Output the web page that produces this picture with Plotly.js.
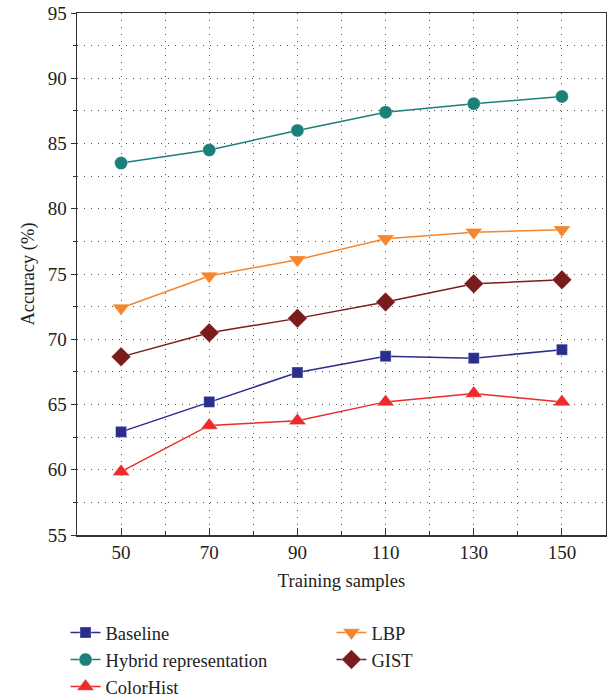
<!DOCTYPE html>
<html>
<head>
<meta charset="utf-8">
<script src="https://cdn.plot.ly/plotly-3.0.1.min.js"></script>
<style>html,body{margin:0;padding:0;background:#fff;}#chart{width:607px;height:697px;}</style>
</head>
<body>
<div id="chart"></div>
<script>
const samples = [50, 70, 90, 110, 130, 150];
const baseline = [62.9, 65.2, 67.45, 68.7, 68.55, 69.2];
const hybrid = [83.5, 84.5, 86.0, 87.4, 88.05, 88.6];
const colorHist = [59.85, 63.4, 63.75, 65.2, 65.85, 65.2];
const lbp = [72.4, 74.85, 76.1, 77.7, 78.2, 78.4];
const gist = [68.65, 70.5, 71.6, 72.85, 74.25, 74.55];
const xTicks = [50, 70, 90, 110, 130, 150];
const yTicks = [55, 60, 65, 70, 75, 80, 85, 90, 95];

function tr(name, y, color, symbol, size, legend) {
  return {
    x: samples, y: y, name: name, type: 'scatter', mode: 'lines+markers',
    line: {color: color, width: 1.5},
    marker: {color: color, symbol: symbol, size: size, line: {color: 'rgba(255,255,255,0.6)', width: 0.5}},
    legend: legend
  };
}

const data = [
  tr('Baseline', baseline, '#2b2f8c', 'square', 11, 'legend'),
  tr('Hybrid representation', hybrid, '#1b7f7a', 'circle', 13, 'legend'),
  tr('ColorHist', colorHist, '#ee2a2a', 'triangle-up', 15, 'legend'),
  tr('LBP', lbp, '#f5862e', 'triangle-down', 15, 'legend2'),
  tr('GIST', gist, '#7b1c1c', 'diamond', 15, 'legend2')
];

const fam = 'Liberation Serif, DejaVu Serif, serif';
const tickFont = {family: fam, size: 19, color: '#222'};
const titleFont = {family: fam, size: 18.5, color: '#222'};
const legFont = {family: fam, size: 18.5, color: '#222'};
const gridDash = '1px,6px';

const layout = {
  width: 607, height: 697,
  margin: {l: 77, r: 1, t: 13, b: 162, autoexpand: false},
  paper_bgcolor: '#fff', plot_bgcolor: '#fff',
  font: tickFont,
  showlegend: true,
  xaxis: {
    automargin: false,
    range: [40, 160],
    tickvals: xTicks, ticktext: xTicks.map(String),
    ticks: 'inside', ticklen: 7, tickcolor: '#333', tickwidth: 1,
    showline: true, linecolor: '#333', linewidth: 1.5, mirror: true,
    showgrid: true, gridcolor: '#555', gridwidth: 1, griddash: gridDash,
    zeroline: false,
    minor: {dtick: 10, tick0: 40, ticks: 'inside', ticklen: 4, tickcolor: '#333', showgrid: true, gridcolor: '#555', gridwidth: 1, griddash: gridDash},
    title: {text: 'Training samples', font: titleFont, standoff: 12},
    tickfont: tickFont
  },
  yaxis: {
    automargin: false,
    range: [55, 95],
    tickvals: yTicks, ticktext: yTicks.map(String),
    ticks: 'outside', ticklen: 5, tickcolor: '#333',
    showline: true, linecolor: '#333', linewidth: 1.5, mirror: true,
    showgrid: true, gridcolor: '#555', gridwidth: 1, griddash: gridDash,
    zeroline: false,
    minor: {dtick: 2.5, tick0: 55, ticks: 'outside', ticklen: 3, tickcolor: '#333', showgrid: true, gridcolor: '#555', gridwidth: 1, griddash: gridDash},
    title: {text: 'Accuracy (%)', font: titleFont, standoff: 8},
    tickfont: tickFont
  },
  legend: {
    x: -0.0217, xanchor: 'left', y: -0.1513, yanchor: 'top',
    orientation: 'v', font: legFont, bgcolor: 'rgba(0,0,0,0)', tracegroupgap: 0
  },
  legend2: {
    x: 0.481, xanchor: 'left', y: -0.1513, yanchor: 'top',
    orientation: 'v', font: legFont, bgcolor: 'rgba(0,0,0,0)', tracegroupgap: 0
  }
};

Plotly.newPlot('chart', data, layout, {displayModeBar: false, staticPlot: true});
</script>
</body>
</html>
